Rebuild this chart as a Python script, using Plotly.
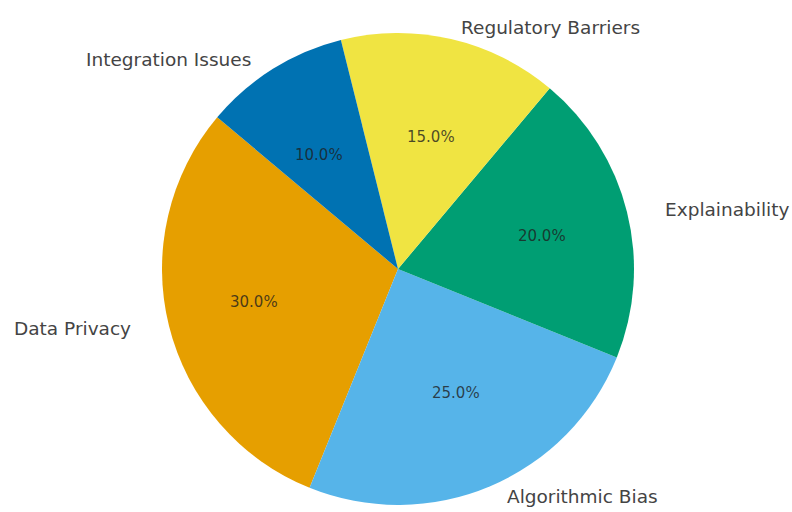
import math
import plotly.graph_objects as go

# Challenges in AI adoption (share of responses)
categories = ["Data Privacy", "Algorithmic Bias", "Explainability",
              "Regulatory Barriers", "Integration Issues"]
shares = [30, 25, 20, 15, 10]
colors = ["#E69F00", "#56B4E9", "#009E73", "#F0E442", "#0072B2"]

W, H = 792, 512
cx, cy, r = 398, 269, 236          # pie centre and radius in pixels
rx, ry = 248, 225                  # radii used to place the text around the pie
start_angle = 140                  # first wedge starts here (degrees, ccw)
label_dist, pct_dist = 1.1, 0.6

total = sum(shares)
first_span = 360 * shares[0] / total

fig = go.Figure()
fig.add_trace(go.Pie(
    labels=categories,
    values=shares,
    sort=False,
    direction="counterclockwise",
    # plotly anchors the end of the first counter-clockwise wedge at `rotation`
    rotation=90 - start_angle - first_span,
    marker=dict(colors=colors, line=dict(width=0)),
    textinfo="none",
    hoverinfo="label+percent",
    showlegend=False,
    domain=dict(x=[(cx - r) / W, (cx + r) / W],
                y=[(H - cy - r) / H, (H - cy + r) / H]),
))

# Category names outside the pie and percentages inside each wedge,
# placed along each wedge's mid-angle.
theta = start_angle
annotations = []
for name, val in zip(categories, shares):
    span = 360 * val / total
    mid = math.radians(theta + span / 2)
    theta += span
    c, s = math.cos(mid), math.sin(mid)
    annotations.append(dict(
        x=(cx + label_dist * rx * c) / W, y=(H - cy + label_dist * ry * s) / H,
        xref="paper", yref="paper", text=name, showarrow=False,
        xanchor="left" if c > 0 else "right", yanchor="middle",
        font=dict(family="DejaVu Sans", size=18.5, color="#444444"),
    ))
    annotations.append(dict(
        x=(cx + pct_dist * rx * c) / W, y=(H - cy + pct_dist * ry * s) / H,
        xref="paper", yref="paper", text=f"{100 * val / total:.1f}%",
        showarrow=False, xanchor="center", yanchor="middle",
        font=dict(family="DejaVu Sans", size=15, color="rgba(30,30,30,0.8)"),
    ))

fig.update_layout(
    width=W, height=H,
    margin=dict(l=0, r=0, t=0, b=0),
    paper_bgcolor="white",
    plot_bgcolor="white",
    annotations=annotations,
)

fig.write_html("out.html")
